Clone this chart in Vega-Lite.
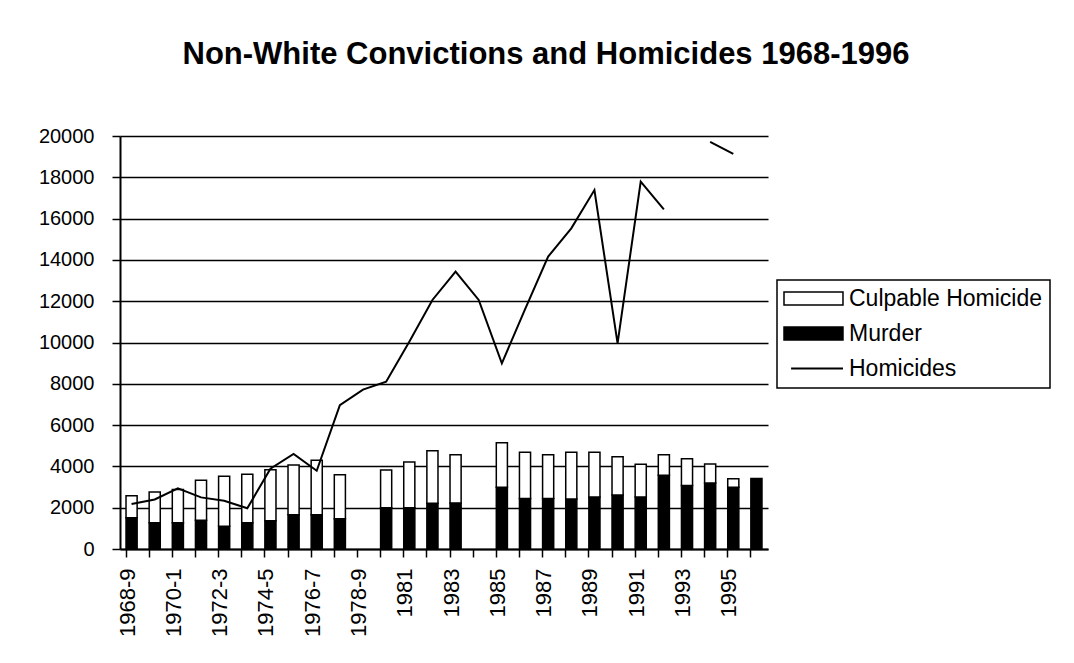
{
  "$schema": "https://vega.github.io/schema/vega-lite/v6.json",
  "width": 648,
  "height": 413,
  "autosize": {"type": "none"},
  "padding": {"left": 120, "top": 136, "right": 306, "bottom": 114},
  "background": "white",
  "title": {
    "text": "Non-White Convictions and Homicides 1968-1996",
    "font": "Liberation Sans",
    "fontSize": 31,
    "fontWeight": "bold",
    "color": "black",
    "anchor": "middle",
    "dx": 102,
    "dy": -51
  },
  "config": {"view": {"stroke": null}, "font": "Liberation Sans"},
  "datasets": {
    "bars": [
      {"period": "1968-9", "series": "Murder", "value": 1515},
      {"period": "1968-9", "series": "Culpable Homicide", "value": 1065},
      {"period": "1969-70", "series": "Murder", "value": 1275},
      {"period": "1969-70", "series": "Culpable Homicide", "value": 1485},
      {"period": "1970-1", "series": "Murder", "value": 1275},
      {"period": "1970-1", "series": "Culpable Homicide", "value": 1605},
      {"period": "1971-2", "series": "Murder", "value": 1390},
      {"period": "1971-2", "series": "Culpable Homicide", "value": 1935},
      {"period": "1972-3", "series": "Murder", "value": 1100},
      {"period": "1972-3", "series": "Culpable Homicide", "value": 2420},
      {"period": "1973-4", "series": "Murder", "value": 1275},
      {"period": "1973-4", "series": "Culpable Homicide", "value": 2340},
      {"period": "1974-5", "series": "Murder", "value": 1370},
      {"period": "1974-5", "series": "Culpable Homicide", "value": 2470},
      {"period": "1975-6", "series": "Murder", "value": 1660},
      {"period": "1975-6", "series": "Culpable Homicide", "value": 2410},
      {"period": "1976-7", "series": "Murder", "value": 1660},
      {"period": "1976-7", "series": "Culpable Homicide", "value": 2635},
      {"period": "1977-8", "series": "Murder", "value": 1470},
      {"period": "1977-8", "series": "Culpable Homicide", "value": 2130},
      {"period": "1979-80", "series": "Murder", "value": 2000},
      {"period": "1979-80", "series": "Culpable Homicide", "value": 1825},
      {"period": "1981", "series": "Murder", "value": 2000},
      {"period": "1981", "series": "Culpable Homicide", "value": 2210},
      {"period": "1982", "series": "Murder", "value": 2210},
      {"period": "1982", "series": "Culpable Homicide", "value": 2550},
      {"period": "1983", "series": "Murder", "value": 2230},
      {"period": "1983", "series": "Culpable Homicide", "value": 2340},
      {"period": "1985", "series": "Murder", "value": 2985},
      {"period": "1985", "series": "Culpable Homicide", "value": 2165},
      {"period": "1986", "series": "Murder", "value": 2450},
      {"period": "1986", "series": "Culpable Homicide", "value": 2230},
      {"period": "1987", "series": "Murder", "value": 2450},
      {"period": "1987", "series": "Culpable Homicide", "value": 2120},
      {"period": "1988", "series": "Murder", "value": 2420},
      {"period": "1988", "series": "Culpable Homicide", "value": 2260},
      {"period": "1989", "series": "Murder", "value": 2520},
      {"period": "1989", "series": "Culpable Homicide", "value": 2160},
      {"period": "1990", "series": "Murder", "value": 2615},
      {"period": "1990", "series": "Culpable Homicide", "value": 1855},
      {"period": "1991", "series": "Murder", "value": 2520},
      {"period": "1991", "series": "Culpable Homicide", "value": 1580},
      {"period": "1992", "series": "Murder", "value": 3570},
      {"period": "1992", "series": "Culpable Homicide", "value": 1000},
      {"period": "1993", "series": "Murder", "value": 3080},
      {"period": "1993", "series": "Culpable Homicide", "value": 1295},
      {"period": "1994", "series": "Murder", "value": 3195},
      {"period": "1994", "series": "Culpable Homicide", "value": 920},
      {"period": "1995", "series": "Murder", "value": 2985},
      {"period": "1995", "series": "Culpable Homicide", "value": 420},
      {"period": "1996", "series": "Murder", "value": 3420}
    ],
    "homicides": [
      {"period": "1968-9", "homicides": 2180},
      {"period": "1969-70", "homicides": 2400},
      {"period": "1970-1", "homicides": 2940},
      {"period": "1971-2", "homicides": 2500},
      {"period": "1972-3", "homicides": 2340},
      {"period": "1973-4", "homicides": 1970},
      {"period": "1974-5", "homicides": 3890},
      {"period": "1975-6", "homicides": 4600},
      {"period": "1976-7", "homicides": 3790},
      {"period": "1977-8", "homicides": 6970},
      {"period": "1978-9", "homicides": 7720},
      {"period": "1979-80", "homicides": 8100},
      {"period": "1981", "homicides": 10040},
      {"period": "1982", "homicides": 12060},
      {"period": "1983", "homicides": 13430},
      {"period": "1984", "homicides": 12060},
      {"period": "1985", "homicides": 8990},
      {"period": "1986", "homicides": 11600},
      {"period": "1987", "homicides": 14160},
      {"period": "1988", "homicides": 15530},
      {"period": "1989", "homicides": 17380},
      {"period": "1990", "homicides": 9960},
      {"period": "1991", "homicides": 17790},
      {"period": "1992", "homicides": 16450},
      {"period": "1993", "homicides": null},
      {"period": "1994", "homicides": 19720},
      {"period": "1995", "homicides": 19130},
      {"period": "1996", "homicides": null}
    ]
  },
  "layer": [
    {
      "data": {"name": "bars"},
      "mark": {"type": "bar", "stroke": "black", "strokeWidth": 1.5},
      "encoding": {
        "x": {
          "field": "period",
          "type": "nominal",
          "scale": {
            "domain": ["1968-9", "1969-70", "1970-1", "1971-2", "1972-3", "1973-4", "1974-5", "1975-6", "1976-7", "1977-8", "1978-9", "1979-80", "1981", "1982", "1983", "1984", "1985", "1986", "1987", "1988", "1989", "1990", "1991", "1992", "1993", "1994", "1995", "1996"],
            "paddingInner": 0.52,
            "paddingOuter": 0.26
          },
          "axis": {
            "title": null,
            "labelAngle": -90,
            "labelFont": "Liberation Sans",
            "labelFontSize": 22,
            "labelColor": "black",
            "labelPadding": 11,
            "labelOffset": -4,
            "labelOverlap": false,
            "labelExpr": "indexof(['1968-9','1970-1','1972-3','1974-5','1976-7','1978-9','1981','1983','1985','1987','1989','1991','1993','1995'], datum.value) >= 0 ? datum.value : ''",
            "tickSize": 8,
            "tickColor": "black",
            "tickWidth": 1.5,
            "domainColor": "black",
            "domainWidth": 2,
            "bandPosition": 0,
            "grid": false
          }
        },
        "y": {
          "field": "value",
          "type": "quantitative",
          "stack": "zero",
          "scale": {"domain": [0, 20000], "nice": false},
          "axis": {
            "title": null,
            "values": [0, 2000, 4000, 6000, 8000, 10000, 12000, 14000, 16000, 18000, 20000],
            "format": "d",
            "grid": true,
            "gridColor": "black",
            "gridWidth": 1.5,
            "gridOpacity": 1,
            "domainColor": "black",
            "domainWidth": 2,
            "tickColor": "black",
            "tickSize": 8,
            "tickWidth": 1.5,
            "labelFont": "Liberation Sans",
            "labelFontSize": 20,
            "labelColor": "black",
            "labelPadding": 18
          }
        },
        "color": {
          "field": "series",
          "type": "nominal",
          "scale": {"domain": ["Culpable Homicide", "Murder", "Homicides"], "range": ["white", "black", "black"]},
          "legend": {
            "orient": "none",
            "legendX": 657,
            "legendY": 144,
            "title": null,
            "direction": "vertical",
            "padding": 7,
            "strokeColor": "black",
            "fillColor": "white",
            "symbolSize": 870,
            "symbolType": "M-0.78,-0.44H3.22V0.44H-0.78Z",
            "symbolStrokeColor": "black",
            "symbolStrokeWidth": 1.5,
            "labelFont": "Liberation Sans",
            "labelFontSize": 23,
            "labelColor": "black",
            "labelOffset": 42,
            "labelLimit": 400,
            "rowPadding": 11,
            "encode": {
              "legend": {"update": {"strokeWidth": {"value": 1.5}}},
              "symbols": {
                "update": {
                  "shape": {"signal": "datum.value === 'Homicides' ? 'M-0.3,0H3.22' : 'M-0.78,-0.44H3.22V0.44H-0.78Z'"},
                  "stroke": {"value": "black"},
                  "strokeWidth": {"signal": "datum.value === 'Homicides' ? 2 : 1.5"}
                }
              }
            }
          }
        },
        "order": {"field": "series", "sort": "descending"}
      }
    },
    {
      "data": {"name": "homicides"},
      "mark": {"type": "line", "color": "black", "strokeWidth": 2, "invalid": "break-paths-show-domains"},
      "encoding": {
        "x": {
          "field": "period",
          "type": "nominal",
          "scale": {
            "domain": ["1968-9", "1969-70", "1970-1", "1971-2", "1972-3", "1973-4", "1974-5", "1975-6", "1976-7", "1977-8", "1978-9", "1979-80", "1981", "1982", "1983", "1984", "1985", "1986", "1987", "1988", "1989", "1990", "1991", "1992", "1993", "1994", "1995", "1996"]
          }
        },
        "y": {"field": "homicides", "type": "quantitative"}
      }
    }
  ]
}
